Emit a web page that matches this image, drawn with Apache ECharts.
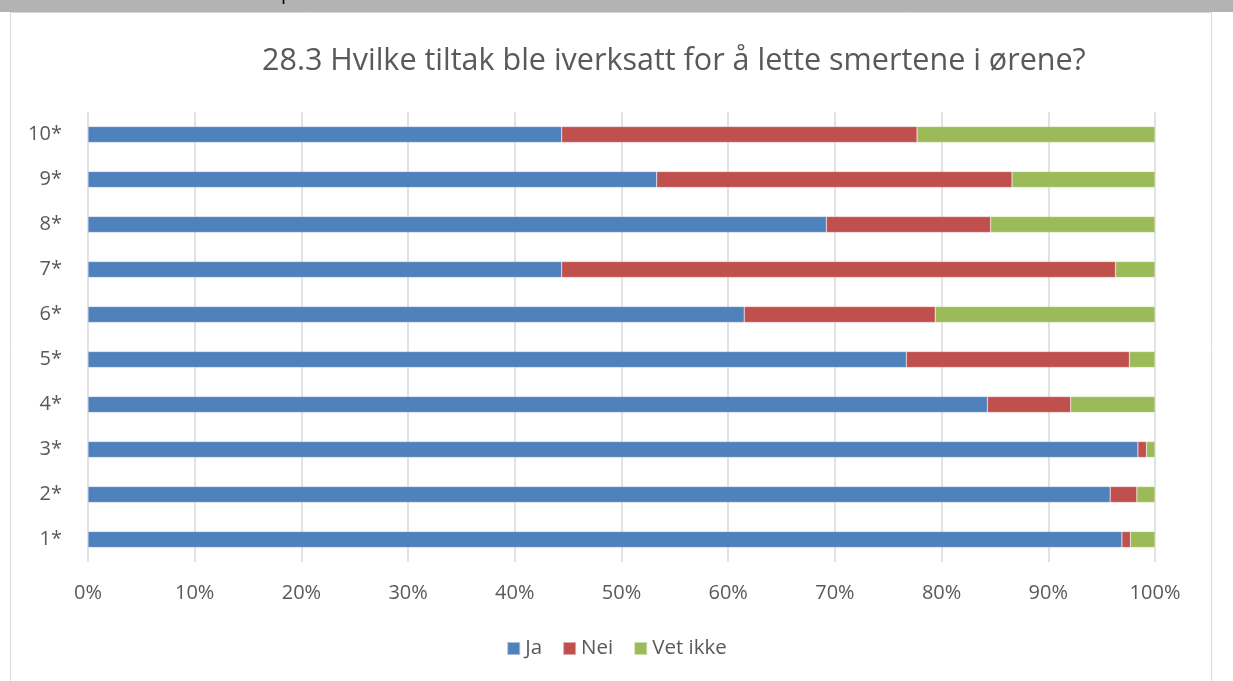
<!DOCTYPE html>
<html>
<head>
<meta charset="utf-8">
<script src="https://cdn.jsdelivr.net/npm/echarts@6/dist/echarts.min.js"></script>
<style>
html,body{margin:0;padding:0;background:#fff;}
#chart{width:1233px;height:681px;}
</style>
</head>
<body>
<div id="chart"></div>
<script>
const title = "28.3 Hvilke tiltak ble iverksatt for å lette smertene i ørene?";
const categories = ["1*","2*","3*","4*","5*","6*","7*","8*","9*","10*"];
const ja     = [96.9, 95.8, 98.4, 84.3, 76.7, 61.5, 44.4, 69.2, 53.3, 44.4];
const nei    = [0.8,  2.5,  0.8,  7.8,  20.9, 17.9, 51.9, 15.4, 33.3, 33.3];
const vetIkke= [2.3,  1.7,  0.8,  7.9,  2.4,  20.6, 3.7,  15.4, 13.4, 22.3];
const seriesNames = ["Ja","Nei","Vet ikke"];
const colors = ["#4F81BD","#C0504D","#9BBB59"];

const chart = echarts.init(document.getElementById('chart'), null, {renderer:'canvas'});
const font = "'Open Sans', sans-serif";
const dataSets = [ja, nei, vetIkke];
chart.setOption({
  animation:false,
  backgroundColor:'#fff',
  title:{
    text:title, left:257, top:41,
    textStyle:{fontFamily:font, fontSize:30.5, fontWeight:'normal', color:'#595959'}
  },
  legend:{
    bottom:17, left:'center', icon:'rect', itemWidth:13, itemHeight:13, itemGap:20,
    textStyle:{fontFamily:font, fontSize:20.5, color:'#595959'},
    data:seriesNames
  },
  grid:{left:88, right:78, top:112, bottom:119, containLabel:false},
  xAxis:{
    type:'value', min:0, max:100, interval:10,
    axisLabel:{formatter:v=>v+'%', fontFamily:font, fontSize:20, color:'#595959', margin:21},
    axisLine:{show:false}, axisTick:{show:false},
    splitLine:{show:true, lineStyle:{color:'#d9d9d9', width:1.5}}
  },
  yAxis:{
    type:'category', data:categories,
    axisLabel:{fontFamily:font, fontSize:20, color:'#595959', margin:26},
    axisLine:{show:false}, axisTick:{show:false}
  },
  series: seriesNames.map((n,i)=>({
    name:n, type:'bar', stack:'total', barWidth:16,
    itemStyle:{color:colors[i], borderColor:'rgba(255,255,255,0.5)', borderWidth:0.5},
    data:dataSets[i]
  })),
  graphic:[
    {type:'rect', shape:{x:0,y:0,width:1233,height:12}, style:{fill:'#b3b3b3'}, silent:true, z:10},
    {type:'text', left:281, top:-17, style:{text:'p', fontFamily:font, fontSize:20, fill:'#000'}, z:11},
    {type:'rect', shape:{x:10.5,y:12.5,width:1201,height:700}, style:{fill:'none', stroke:'#d9d9d9', lineWidth:1}, silent:true, z:10}
  ]
});
</script>
</body>
</html>
